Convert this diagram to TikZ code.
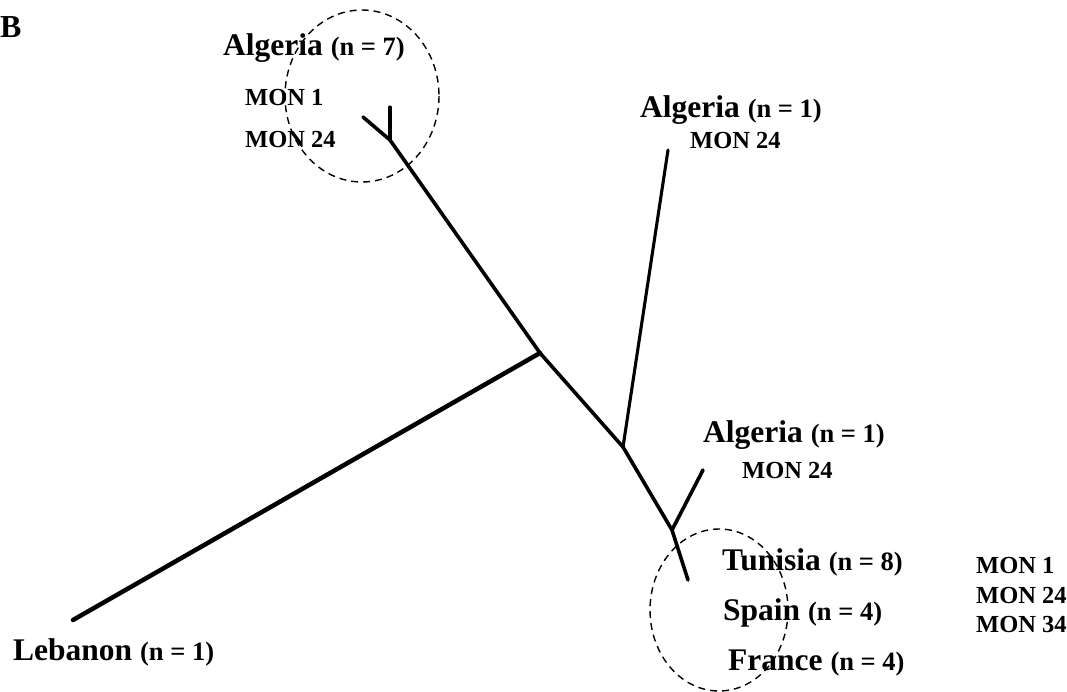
\documentclass[tikz,border=0pt]{standalone}
\usepackage{fontspec}
\setmainfont{Liberation Serif}
\newcommand{\nsz}[1]{{\fontsize{26.5}{26.5}\selectfont #1}}
\begin{document}
\begin{tikzpicture}[x=1pt,y=-1pt,
  big/.style={anchor=base west,inner sep=0pt,font=\bfseries\fontsize{31.5}{31.5}\selectfont},
  mon/.style={anchor=base west,inner sep=0pt,font=\bfseries\fontsize{24.5}{24.5}\selectfont},
  branch/.style={line width=3.6pt,line cap=round},
  thick branch/.style={line width=4.5pt,line cap=round},
  thin branch/.style={line width=3.1pt,line cap=round},
  clus/.style={draw,dashed,line width=1.4pt,dash pattern=on 7pt off 5pt}]
\useasboundingbox (0,0) rectangle (1067,691);
% tree coordinates
\coordinate (t1) at (363,117);
\coordinate (t2) at (390,107);
\coordinate (tj) at (390,140);
\coordinate (cj) at (540,353);
\coordinate (leb) at (73,620);
\coordinate (aj) at (623,447);
\coordinate (atop) at (668,150);
\coordinate (bj) at (672,530);
\coordinate (btop) at (703,470);
\coordinate (bend) at (688,580);
% branches
\draw[branch] (t1) -- (tj);
\draw[thin branch] (t2) -- (tj);
\draw[branch] (tj) -- (cj);
\draw[thick branch] (cj) -- (leb);
\draw[branch] (cj) -- (aj);
\draw[thin branch] (aj) -- (atop);
\draw[branch] (aj) -- (bj);
\draw[branch] (bj) -- (btop);
\draw[branch] (bj) -- (bend);
% clusters
\draw[clus] (362,96) ellipse [x radius=77,y radius=86];
\draw[clus] (719,610) ellipse [x radius=69,y radius=81];
% labels
\node[big,font=\bfseries\fontsize{32}{32}\selectfont] (B) at (0,37) {B};
\node[big] (alg7) at (223,55) {Algeria \nsz{(n = 7)}};
\node[mon] (alg7m1) at (245,105) {MON 1};
\node[mon] (alg7m2) at (245,147) {MON 24};
\node[big] (alg1a) at (640,117) {Algeria \nsz{(n = 1)}};
\node[mon] (alg1am) at (690,148) {MON 24};
\node[big] (alg1b) at (703,442) {Algeria \nsz{(n = 1)}};
\node[mon] (alg1bm) at (742,478) {MON 24};
\node[big] (tun) at (722,570) {Tunisia \nsz{(n = 8)}};
\node[big] (spa) at (723,620) {Spain \nsz{(n = 4)}};
\node[big] (fra) at (728,670) {France \nsz{(n = 4)}};
\node[mon] (r1) at (976,573) {MON 1};
\node[mon] (r2) at (976,603) {MON 24};
\node[mon] (r3) at (976,632) {MON 34};
\node[big] (lebl) at (13,660) {Lebanon \nsz{(n = 1)}};
\end{tikzpicture}
\end{document}
